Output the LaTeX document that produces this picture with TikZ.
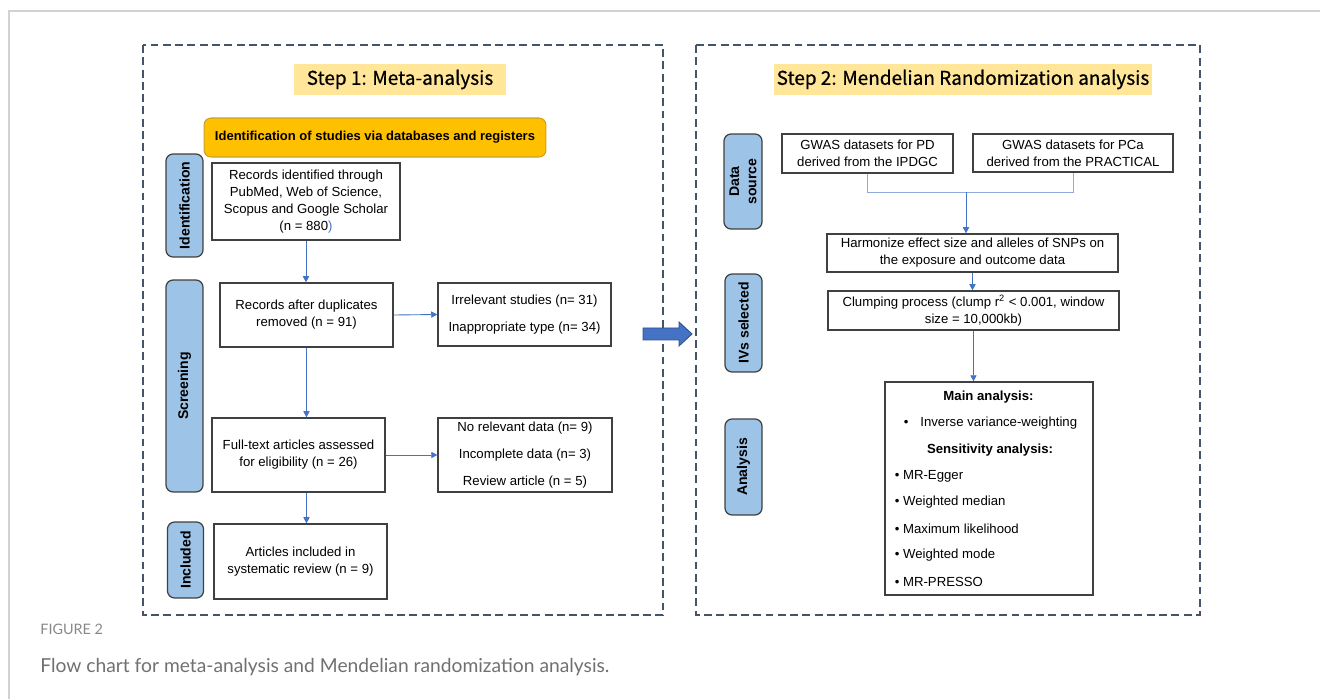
\documentclass[tikz,border=0pt]{standalone}
\usepackage{fontspec}
\setmainfont{Liberation Sans}
\newfontfamily\titlefont[FakeBold=0.6]{Noto Sans CJK SC}
\newfontfamily\capfont{Lato}
\usetikzlibrary{arrows.meta, positioning}

\definecolor{framecol}{HTML}{44546A}
\definecolor{boxline}{HTML}{404040}
\definecolor{titleyellow}{HTML}{FFE699}
\definecolor{headorange}{HTML}{FFC000}
\definecolor{headline}{HTML}{C9A227}
\definecolor{sideblue}{HTML}{9DC3E6}
\definecolor{arrowblue}{HTML}{4472C4}
\definecolor{arrowdark}{HTML}{2F528F}
\definecolor{linkblue}{HTML}{8FAADC}
\definecolor{capgray}{HTML}{707070}
\definecolor{fignogray}{HTML}{888888}

\begin{document}
\begin{tikzpicture}[
            x=0.02cm, y=-0.02cm,
            % Style for the plain flow boxes
            box/.style={draw=boxline, line width=0.7pt, fill=white, align=center, inner sep=1pt, font=\fontsize{7.5}{9.6}\selectfont},
            % Style for the boxes listing the excluded records
            exclbox/.style={box, font=\fontsize{7.5}{15.2}\selectfont},
            % Style for the blue stage labels at the side
            stage/.style={draw=boxline, line width=0.7pt, fill=sideblue, rounded corners=4pt, rotate=90, align=center, inner sep=0pt, font=\bfseries\fontsize{8}{9.8}\selectfont},
            % Style for the yellow step titles
            steptitle/.style={fill=titleyellow, inner sep=0pt, font=\titlefont\fontsize{10.8}{12}\selectfont},
            % Style for the arrows between boxes
            flow/.style={draw=arrowblue, line width=0.5pt, -{Triangle[length=3.5pt,width=3.5pt]}},
            % Style for the lines joining the two data sources
            link/.style={draw=linkblue, line width=0.5pt},
            % Style for the dashed step frames
            frame/.style={draw=framecol, line width=0.85pt, dash pattern=on 4.5pt off 2.5pt},
            % Style for the lines inside the analysis box
            info/.style={inner sep=0pt, font=\fontsize{7.5}{9}\selectfont}
        ]
        \useasboundingbox (0,0) rectangle (1320,699);

        % --- Page rule and the two step frames ---
        \draw[gray!35, line width=0.6pt] (9,699) -- (9,11) -- (1320,11);
        \draw[frame] (143,45) rectangle (663,615);
        \draw[frame] (696,45) rectangle (1200,615);

        % --- Step 1: meta-analysis ---
        \node[steptitle, minimum width=4.24cm, minimum height=0.62cm] (title1) at (400,79.5) {Step 1: Meta-analysis};
        \node[draw=headline, line width=0.6pt, fill=headorange, rounded corners=4pt, minimum width=6.84cm, minimum height=0.78cm, font=\bfseries\fontsize{7.4}{9}\selectfont] (idhead) at (375,137.5) {Identification of studies via databases and registers};

        \node[stage, minimum width=2.06cm, minimum height=0.74cm] (lblid) at (184.5,205.5) {Identification};
        \node[stage, minimum width=4.24cm, minimum height=0.74cm] (lblscr) at (184.5,386) {Screening};
        \node[stage, minimum width=1.52cm, minimum height=0.72cm] (lblinc) at (185.5,560) {Included};

        \node[box, minimum width=3.76cm, minimum height=1.54cm] (recid) at (306,201.5) {Records identified through\\PubMed, Web of Science,\\Scopus and Google Scholar\\(n = 880\textcolor{arrowblue}{)}};
        \node[box, minimum width=3.46cm, minimum height=1.28cm] (recdup) at (306.5,315) {Records after duplicates\\removed (n = 91)};
        \node[exclbox, minimum width=3.46cm, minimum height=1.26cm] (excl1) at (524.5,314.5) {Irrelevant studies (n= 31)\\Inappropriate type (n= 34)};
        \node[box, minimum width=3.46cm, minimum height=1.48cm] (fulltext) at (298.5,455) {Full-text articles assessed\\for eligibility (n = 26)};
        \node[exclbox, minimum width=3.48cm, minimum height=1.48cm] (excl2) at (525,455) {No relevant data (n= 9)\\Incomplete data (n= 3)\\Review article (n = 5)};
        \node[box, minimum width=3.46cm, minimum height=1.50cm] (incl) at (300.5,561.5) {Articles included in\\systematic review (n = 9)};

        \draw[flow] (recid.south) -- (recid.south |- recdup.north);
        \draw[flow] (recdup.east) -- (excl1.west);
        \draw[flow] (recdup.south) -- (recdup.south |- fulltext.north);
        \draw[flow] (fulltext.east) -- (excl2.west);
        \draw[flow] (recdup.south |- fulltext.south) -- (recdup.south |- incl.north);

        % --- Block arrow from step 1 to step 2 ---
        \filldraw[fill=arrowblue, draw=arrowdark, line width=0.5pt] (643,328) -- (679,328) -- (679,322) -- (692,334) -- (679,346) -- (679,340) -- (643,340) -- cycle;

        % --- Step 2: Mendelian randomization ---
        \node[steptitle, minimum width=7.56cm, minimum height=0.62cm] (title2) at (963,79.5) {Step 2: Mendelian Randomization analysis};

        \node[stage, minimum width=1.90cm, minimum height=0.76cm] (lblds) at (743,181.5) {Data\\source};
        \node[stage, minimum width=1.96cm, minimum height=0.74cm] (lbliv) at (743.5,323) {IVs selected};
        \node[stage, minimum width=1.92cm, minimum height=0.74cm] (lblan) at (743.5,467) {Analysis};

        \node[box, minimum width=3.42cm, minimum height=0.78cm] (gwaspd) at (867.5,153.5) {GWAS datasets for PD\\derived from the IPDGC};
        \node[box, minimum width=4.00cm, minimum height=0.76cm] (gwaspca) at (1073,153) {GWAS datasets for PCa\\derived from the PRACTICAL};
        \node[box, minimum width=5.82cm, minimum height=0.76cm] (harm) at (972.5,253) {Harmonize effect size and alleles of SNPs on\\the exposure and outcome data};
        \node[box, minimum width=5.82cm, minimum height=0.78cm] (clump) at (973.5,310.5) {Clumping process (clump r\textsuperscript{2} < 0.001, window\\size = 10,000kb)};
        \node[box, minimum width=4.16cm, minimum height=4.26cm] (mainan) at (989,488.5) {};

        % Lines of the analysis box
        \node[info, font=\bfseries\fontsize{7.5}{9}\selectfont] (mainhead) at (988.5,397) {Main analysis:};
        \node[info, anchor=west] (ivw) at (903.5,423) {\textbullet\hspace{6.8pt}Inverse variance-weighting};
        \node[info, font=\bfseries\fontsize{7.5}{9}\selectfont] (senshead) at (990,450) {Sensitivity analysis:};
        \foreach \name/\yy/\txt in {egger/476/MR-Egger, median/502/Weighted median, maxlik/529/Maximum likelihood, wmode/555/Weighted mode, presso/582/MR-PRESSO} {
            \node[info, anchor=west] (\name) at (894.5,\yy) {\textbullet\ \txt};
        }

        \coordinate (join) at (966,192);
        \draw[link] (gwaspd.south) -- (gwaspd.south |- join) -- (gwaspca.south |- join) -- (gwaspca.south);
        \draw[flow] (join) -- (join |- harm.north);
        \draw[flow] (harm.south) -- (harm.south |- clump.north);
        \draw[flow] (clump.south) -- (clump.south |- mainan.north);

        % --- Caption ---
        \node[anchor=west, inner sep=0pt, text=fignogray, font=\capfont\fontsize{8.2}{9}\selectfont] (figno) at (40,629) {FIGURE 2};
        \node[anchor=west, inner sep=0pt, text=capgray, font=\capfont\fontsize{10.95}{12}\selectfont] (figcap) at (40,667) {Flow chart for meta-analysis and Mendelian randomization analysis.};

        \end{tikzpicture}
\end{document}
